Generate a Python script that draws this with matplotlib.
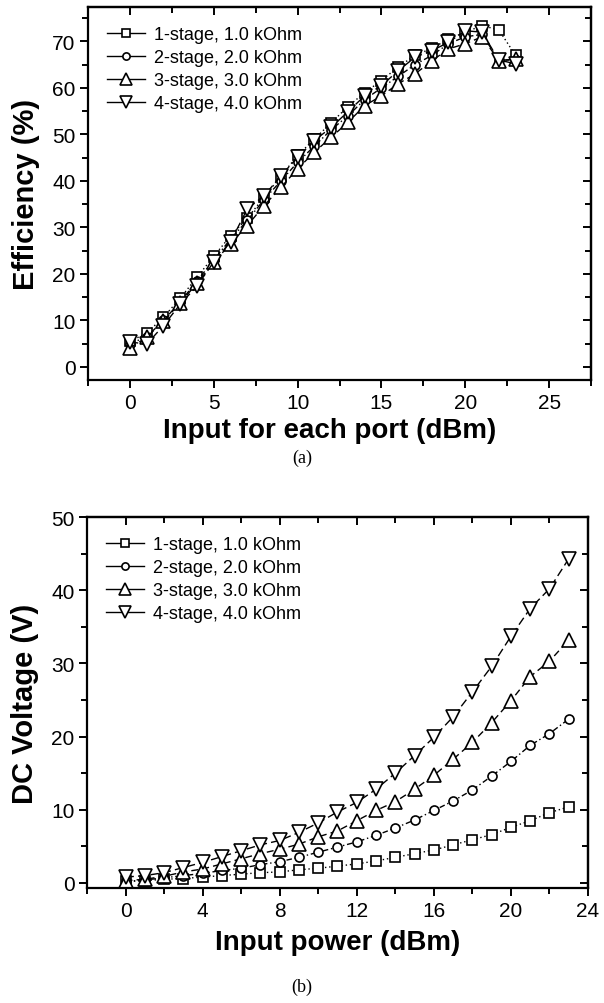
import matplotlib
matplotlib.use('Agg')
import matplotlib.pyplot as plt
from matplotlib.lines import Line2D

plt.rcParams['font.family'] = ['Liberation Sans', 'DejaVu Sans']

# ---- data ----
x_a = list(range(0, 24))
eff_1 = [5.5, 7.3, 10.7, 14.8, 19.3, 23.8, 28.2, 32.0, 36.5, 41.0, 45.5, 49.0,
         52.5, 56.0, 59.0, 61.6, 64.5, 67.0, 68.5, 70.5, 72.0, 73.4, 72.5, 67.0]
eff_2 = [5.0, 6.5, 10.0, 14.0, 18.5, 23.0, 27.5, 31.5, 36.0, 40.0, 44.0, 47.5,
         51.0, 54.0, 57.5, 60.0, 62.5, 65.0, 67.0, 69.5, 71.0, 71.5, 66.0, 66.0]
eff_3 = [4.1, 6.4, 9.8, 13.8, 18.0, 22.5, 26.5, 30.4, 34.7, 38.6, 42.6, 46.2,
         49.4, 52.6, 56.2, 58.3, 60.9, 63.0, 65.8, 68.4, 69.5, 71.0, 65.9, 66.2]
eff_4 = [5.4, 4.9, 8.9, 13.5, 17.4, 22.6, 26.9, 34.0, 36.8, 41.1, 45.1, 48.7,
         51.5, 54.9, 58.3, 60.5, 63.7, 66.6, 68.0, 69.8, 72.3, 72.0, 66.0, 65.2]

x_b = list(range(0, 24))
vdc_1 = [0.2, 0.3, 0.5, 0.6, 0.8, 1.0, 1.2, 1.4, 1.5, 1.8, 2.0, 2.3,
         2.6, 3.0, 3.5, 4.0, 4.5, 5.2, 5.9, 6.6, 7.6, 8.5, 9.6, 10.4]
vdc_2 = [0.2, 0.4, 0.7, 1.0, 1.3, 1.7, 2.0, 2.5, 2.9, 3.5, 4.2, 4.9,
         5.6, 6.5, 7.5, 8.6, 9.9, 11.2, 12.7, 14.6, 16.6, 18.8, 20.4, 22.4]
vdc_3 = [0.3, 0.5, 0.9, 1.5, 1.9, 2.6, 3.3, 4.0, 4.6, 5.3, 6.3, 7.1,
         8.5, 9.9, 11.1, 12.8, 14.7, 16.9, 19.2, 21.9, 24.9, 28.2, 30.3, 33.2]
vdc_4 = [0.8, 1.0, 1.4, 2.1, 2.8, 3.6, 4.4, 5.2, 5.8, 6.9, 8.2, 9.7,
         11.0, 12.8, 15.0, 17.4, 19.9, 22.7, 26.1, 29.6, 33.7, 37.5, 40.2, 44.3]

labels = ['1-stage, 1.0 kOhm', '2-stage, 2.0 kOhm',
          '3-stage, 3.0 kOhm', '4-stage, 4.0 kOhm']

# ---- styles ----
markers = ['s', 'o', '^', 'v']
msizes = [7, 6.5, 10, 10]
lstyles = [(0, (1, 2)), (0, (4, 2, 1, 2)), (0, (5, 3)), (0, (6, 3))]


def style_axes(ax, xlim, ylim, xmaj, xmin, ymaj, ymin):
    ax.set_xlim(*xlim)
    ax.set_ylim(*ylim)
    ax.xaxis.set_major_locator(plt.MultipleLocator(xmaj))
    ax.xaxis.set_minor_locator(plt.MultipleLocator(xmin))
    ax.yaxis.set_major_locator(plt.MultipleLocator(ymaj))
    ax.yaxis.set_minor_locator(plt.MultipleLocator(ymin))
    for sp in ax.spines.values():
        sp.set_linewidth(1.6)
    ax.tick_params(which='both', direction='out', width=1.4, labelsize=15,
                   top=False, right=False, pad=3)
    ax.tick_params(which='major', length=6)
    ax.tick_params(which='minor', length=4)
    # mirrored ticks on top/right point inward
    top = ax.secondary_xaxis('top')
    top.xaxis.set_major_locator(plt.MultipleLocator(xmaj))
    top.xaxis.set_minor_locator(plt.MultipleLocator(xmin))
    top.tick_params(which='both', direction='in', width=1.4, labeltop=False)
    top.tick_params(which='major', length=6)
    top.tick_params(which='minor', length=4)
    right = ax.secondary_yaxis('right')
    right.yaxis.set_major_locator(plt.MultipleLocator(ymaj))
    right.yaxis.set_minor_locator(plt.MultipleLocator(ymin))
    right.tick_params(which='both', direction='in', width=1.4, labelright=False)
    right.tick_params(which='major', length=6)
    right.tick_params(which='minor', length=4)
    for s in (top, right):
        for sp in s.spines.values():
            sp.set_linewidth(1.6)


def draw_series(ax, x, ys):
    for y, m, ms, ls in zip(ys, markers, msizes, lstyles):
        ax.plot(x, y, color='black', linestyle=ls, linewidth=1.0,
                marker=m, markersize=ms, markerfacecolor='white',
                markeredgecolor='black', markeredgewidth=1.2)
    handles = [Line2D([0], [0], color='black', linestyle='-', linewidth=1.0,
                      marker=m, markersize=ms * 0.8, markerfacecolor='white',
                      markeredgecolor='black', markeredgewidth=1.2)
               for m, ms in zip(markers, msizes)]
    ax.legend(handles, labels, loc='upper left', frameon=False, fontsize=13,
              handlelength=2.1, handletextpad=0.5, labelspacing=0.33,
              borderaxespad=0.0, bbox_to_anchor=(0.024, 0.968))


fig = plt.figure(figsize=(6.04, 10.04), dpi=100)
fig.patch.set_facecolor('white')

# ---- (a) efficiency ----
ax1 = fig.add_axes([0.1457, 0.6205, 0.8328, 0.3715])
draw_series(ax1, x_a, [eff_1, eff_2, eff_3, eff_4])
style_axes(ax1, (-2.5, 27.5), (-2.8, 77.4), 5, 2.5, 10, 5)
ax1.set_xlabel('Input for each port (dBm)', fontsize=20, fontweight='bold',
               labelpad=7)
ax1.xaxis.set_label_coords(0.48, -0.1)
ax1.set_ylabel('Efficiency (%)', fontsize=21, fontweight='bold', labelpad=9)

# ---- (b) DC voltage ----
ax2 = fig.add_axes([0.144, 0.1145, 0.8295, 0.3695])
draw_series(ax2, x_b, [vdc_1, vdc_2, vdc_3, vdc_4])
style_axes(ax2, (-2, 24), (-0.7, 50), 4, 2, 10, 5)
ax2.set_xlabel('Input power (dBm)', fontsize=20, fontweight='bold', labelpad=7)
ax2.set_ylabel('DC Voltage (V)', fontsize=21, fontweight='bold', labelpad=9)

fig.text(0.5, 1 - 458 / 1004, '(a)', ha='center', va='center', fontsize=13,
         family='Liberation Serif')
fig.text(0.5, 1 - 987 / 1004, '(b)', ha='center', va='center', fontsize=13,
         family='Liberation Serif')

fig.savefig('out.png', dpi=100, facecolor='white')
